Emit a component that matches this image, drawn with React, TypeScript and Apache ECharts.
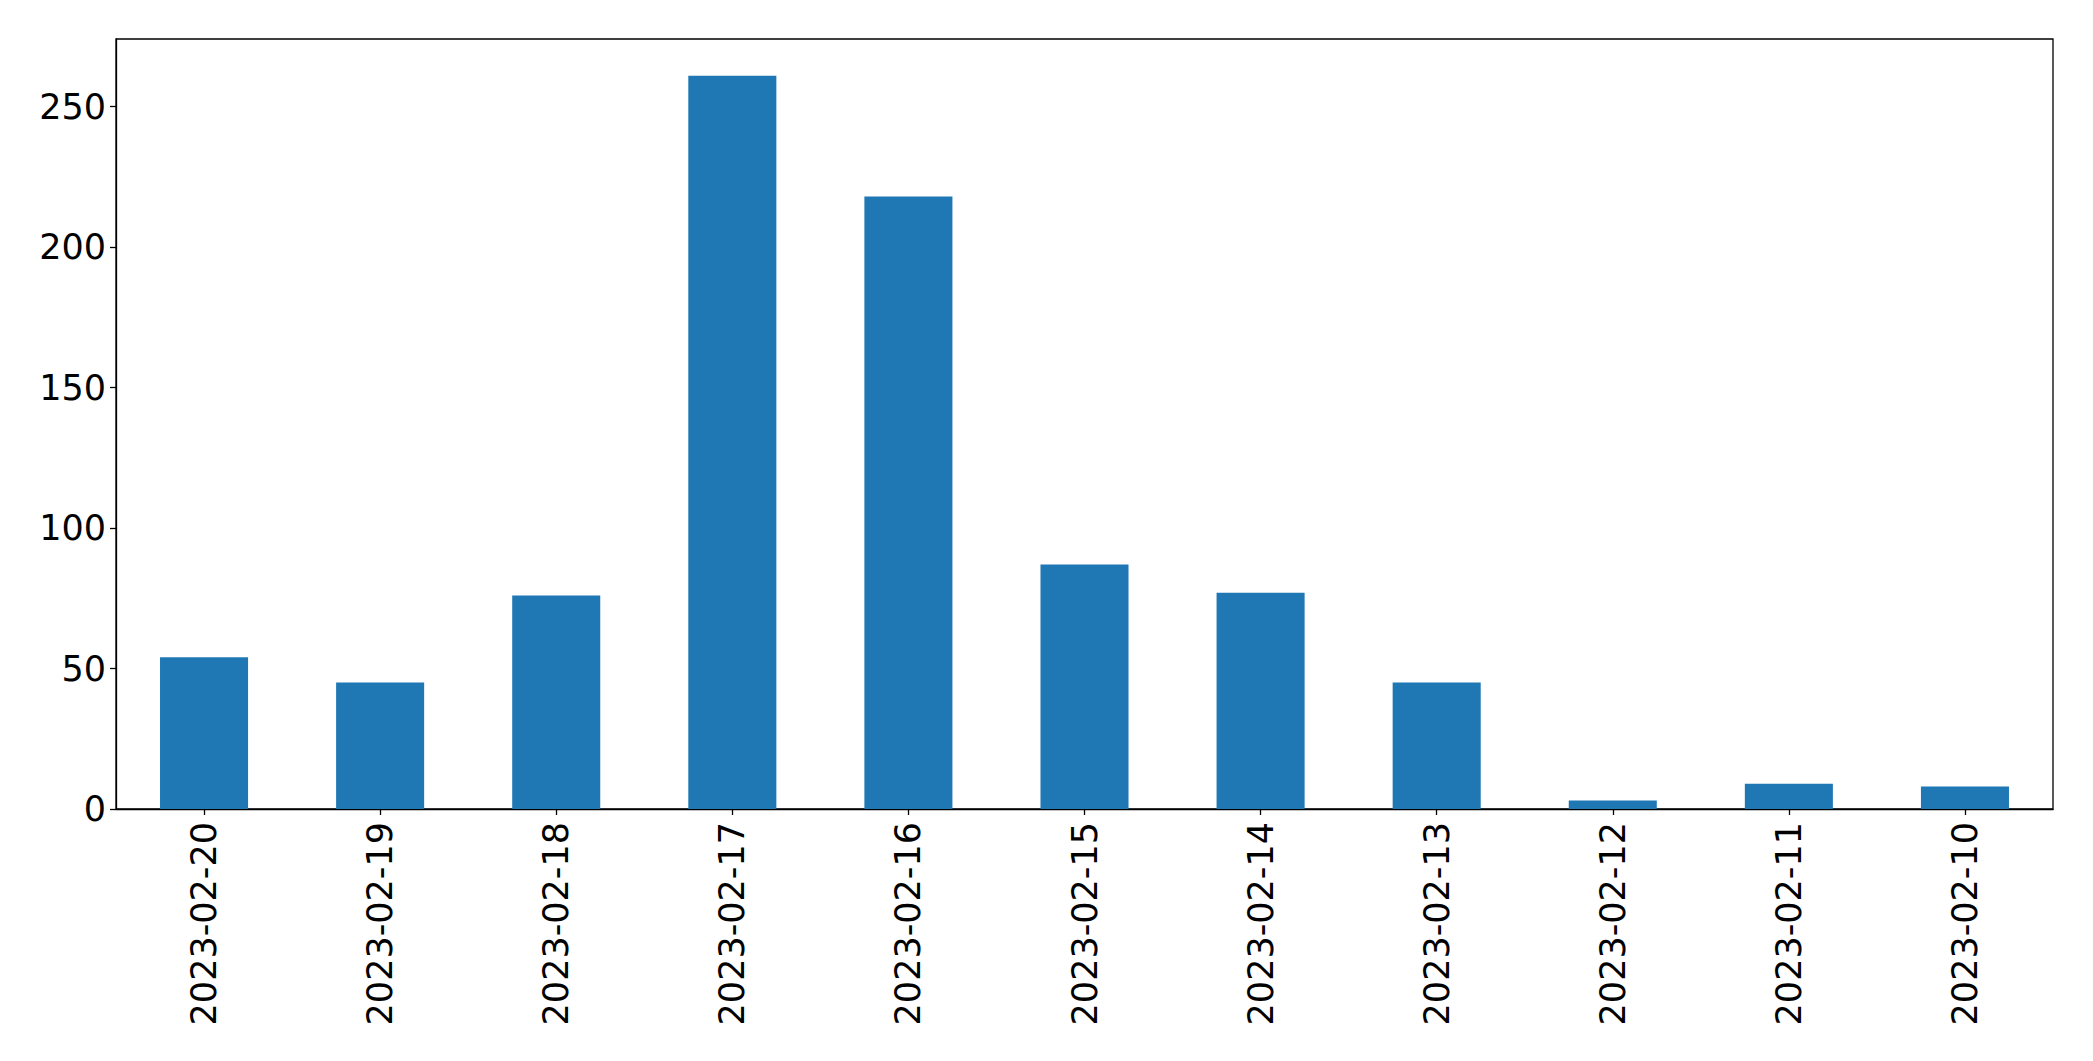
import React, { useEffect, useRef } from "react";
import * as echarts from "echarts";

const categories = [
  "2023-02-20", "2023-02-19", "2023-02-18", "2023-02-17", "2023-02-16", "2023-02-15",
  "2023-02-14", "2023-02-13", "2023-02-12", "2023-02-11", "2023-02-10",
];
const values = [54, 45, 76, 261, 218, 87, 77, 45, 3, 9, 8];
const yMax = 274.05;

export default function App() {
  const ref = useRef<HTMLDivElement>(null);
  useEffect(() => {
    if (!ref.current) return;
    const chart = echarts.init(ref.current, null, { renderer: "svg" });
    const font = "DejaVu Sans";
    chart.setOption({
      animation: false,
      backgroundColor: "#ffffff",
      grid: {
        left: 116, right: 40, top: 39, bottom: 252,
        show: true, borderColor: "#000", borderWidth: 1.3, backgroundColor: "transparent",
      },
      xAxis: {
        type: "category",
        data: categories,
        boundaryGap: true,
        axisLine: { show: true, lineStyle: { color: "#000", width: 1.3 } },
        axisTick: { show: true, alignWithLabel: true, length: 6, lineStyle: { color: "#000", width: 1.3 } },
        axisLabel: { rotate: 90, color: "#000", fontSize: 35, fontFamily: font, margin: 13, interval: 0 },
        splitLine: { show: false },
      },
      yAxis: {
        type: "value",
        min: 0,
        max: yMax,
        interval: 50,
        axisLine: { show: true, lineStyle: { color: "#000", width: 1.3 } },
        axisTick: { show: true, length: 6, lineStyle: { color: "#000", width: 1.3 } },
        axisLabel: { color: "#000", fontSize: 35, fontFamily: font, margin: 10, showMaxLabel: false },
        splitLine: { show: false },
      },
      series: [
        {
          type: "bar",
          data: values,
          barCategoryGap: "50%",
          itemStyle: { color: "#1f77b4" },
        },
      ],
    });
    return () => chart.dispose();
  }, []);
  return (
    <div
      ref={ref}
      style={{ position: "fixed", left: 0, top: 0, width: 2093, height: 1061, background: "#fff" }}
    />
  );
}
